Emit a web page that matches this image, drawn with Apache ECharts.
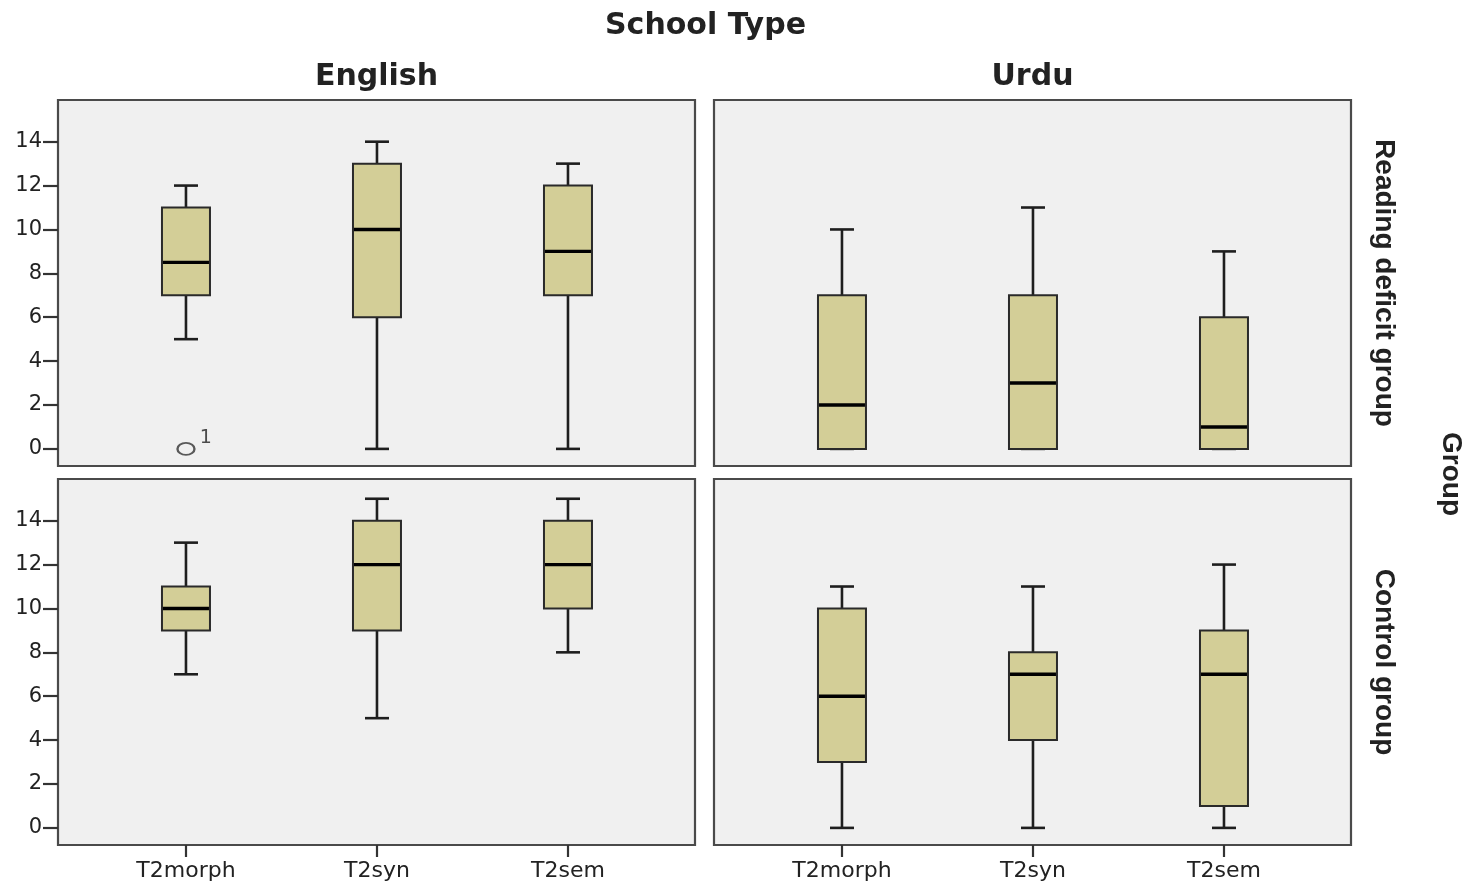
<!DOCTYPE html>
<html>
<head>
<meta charset="utf-8">
<script src="https://cdn.jsdelivr.net/npm/echarts@6/dist/echarts.min.js"></script>
<style>
html,body{margin:0;padding:0;background:#fff;}
#main{width:1468px;height:883px;}
</style>
</head>
<body>
<div id="main"></div>
<script>
// ---- data ----
const categories = ['T2morph', 'T2syn', 'T2sem'];
const yTicks = [0, 2, 4, 6, 8, 10, 12, 14];
const schoolTypes = ['English', 'Urdu'];
const groups = ['Reading deficit group', 'Control group'];
// each item: [min, Q1, median, Q3, max] for T2morph, T2syn, T2sem
const englishDeficit = [[5, 7, 8.5, 11, 12], [0, 6, 10, 13, 14], [0, 7, 9, 12, 13]];
const urduDeficit    = [[0, 0, 2, 7, 10], [0, 0, 3, 7, 11], [0, 0, 1, 6, 9]];
const englishControl = [[7, 9, 10, 11, 13], [5, 9, 12, 14, 15], [8, 10, 12, 14, 15]];
const urduControl    = [[0, 3, 6, 10, 11], [0, 4, 7, 8, 11], [0, 1, 7, 9, 12]];
// outliers: [category index (1-based), value, case label]
const englishDeficitOutliers = [[1, 0, '1']];

// ---- layout / style ----
const panels = [
  {left: 58,  top: 100, stats: englishDeficit, outliers: englishDeficitOutliers, col: 0, row: 0},
  {left: 714, top: 100, stats: urduDeficit,    outliers: [], col: 1, row: 0},
  {left: 58,  top: 479, stats: englishControl, outliers: [], col: 0, row: 1},
  {left: 714, top: 479, stats: urduControl,    outliers: [], col: 1, row: 1}
];
const PW = 637, PH = 366;
const BOX_FILL = '#d3ce97';
const TXT = '#222';

function renderBox(params, api) {
  const x = api.value(0);
  const lo = api.coord([x, api.value(1)]);
  const q1 = api.coord([x, api.value(2)]);
  const md = api.coord([x, api.value(3)]);
  const q3 = api.coord([x, api.value(4)]);
  const hi = api.coord([x, api.value(5)]);
  const cx = lo[0], bw = 48, cw = 24;
  const ls = {stroke: '#1e1e1e', lineWidth: 2.6};
  return {
    type: 'group',
    children: [
      {type: 'line', shape: {x1: cx, y1: lo[1], x2: cx, y2: q1[1]}, style: ls},
      {type: 'line', shape: {x1: cx, y1: q3[1], x2: cx, y2: hi[1]}, style: ls},
      {type: 'line', shape: {x1: cx - cw / 2, y1: lo[1], x2: cx + cw / 2, y2: lo[1]}, style: ls},
      {type: 'line', shape: {x1: cx - cw / 2, y1: hi[1], x2: cx + cw / 2, y2: hi[1]}, style: ls},
      {type: 'rect', shape: {x: cx - bw / 2, y: q3[1], width: bw, height: q1[1] - q3[1]},
        style: {fill: BOX_FILL, stroke: '#2a2a2a', lineWidth: 2}},
      {type: 'line', shape: {x1: cx - bw / 2 + 1, y1: md[1], x2: cx + bw / 2 - 1, y2: md[1]},
        style: {stroke: '#000', lineWidth: 3.4}}
    ]
  };
}

const grids = [], xAxes = [], yAxes = [], series = [];
panels.forEach((p, i) => {
  grids.push({left: p.left, top: p.top, width: PW, height: PH, show: true,
    backgroundColor: '#f0f0f0', borderColor: '#4a4a4a', borderWidth: 2.2, containLabel: false});
  const isBottom = p.row === 1;
  xAxes.push({
    gridIndex: i, type: 'value', min: 0.33, max: 3.665,
    position: isBottom ? 'bottom' : 'top',
    name: isBottom ? '' : schoolTypes[p.col],
    nameLocation: 'middle', nameGap: 8,
    nameTextStyle: {fontFamily: 'DejaVu Sans', fontWeight: 'bold', fontSize: 30, color: TXT, verticalAlign: 'bottom'},
    splitLine: {show: false},
    axisLine: {show: false, onZero: false},
    axisTick: {show: isBottom, length: 12, inside: false, lineStyle: {color: '#333', width: 2.2},
      customValues: categories.map((c, k) => k + 1)},
    axisLabel: {show: isBottom, margin: 15, fontFamily: 'DejaVu Sans', fontSize: 22, color: TXT,
      customValues: categories.map((c, k) => k + 1),
      formatter: v => categories[Math.round(v) - 1] || ''}
  });
  const isLeft = p.col === 0;
  yAxes.push({
    gridIndex: i, type: 'value', min: -0.78, max: 15.9,
    position: isLeft ? 'left' : 'right',
    name: isLeft ? '' : groups[p.row],
    nameLocation: 'middle', nameRotate: -90, nameGap: 19,
    nameTextStyle: {fontFamily: 'Liberation Sans', fontWeight: 'bold', fontSize: 28, color: TXT},
    splitLine: {show: false},
    axisLine: {show: false, onZero: false},
    axisTick: {show: isLeft, length: 15, lineStyle: {color: '#333', width: 2.2}, customValues: yTicks},
    axisLabel: {show: isLeft, margin: 16, fontFamily: 'DejaVu Sans', fontSize: 21, color: TXT,
      customValues: yTicks}
  });
  series.push({
    type: 'custom', xAxisIndex: i, yAxisIndex: i,
    renderItem: renderBox,
    encode: {x: 0, y: [1, 2, 3, 4, 5]},
    data: p.stats.map((s, k) => [k + 1].concat(s)),
    silent: true
  });
  if (p.outliers.length) {
    series.push({
      type: 'scatter', xAxisIndex: i, yAxisIndex: i,
      symbol: 'circle', symbolSize: [17, 12],
      itemStyle: {color: 'rgba(0,0,0,0)', borderColor: '#333', borderWidth: 2},
      label: {show: true, position: 'right', distance: 4, offset: [0, -11],
        formatter: d => d.value[2], fontFamily: 'DejaVu Sans', fontSize: 19, color: TXT},
      data: p.outliers,
      silent: true
    });
  }
});

const chart = echarts.init(document.getElementById('main'), null, {renderer: 'canvas'});
chart.setOption({
  animation: false,
  backgroundColor: '#fff',
  title: {text: 'School Type', left: 600, top: 6,
    textStyle: {fontFamily: 'DejaVu Sans', fontWeight: 'bold', fontSize: 30, color: TXT}},
  grid: grids, xAxis: xAxes, yAxis: yAxes, series: series,
  graphic: [{
    type: 'text', left: 1437, top: 432, rotation: -Math.PI / 2,
    style: {text: 'Group', fontFamily: 'Liberation Sans', fontWeight: 'bold', fontSize: 28, fill: TXT}
  }]
});
</script>
</body>
</html>
